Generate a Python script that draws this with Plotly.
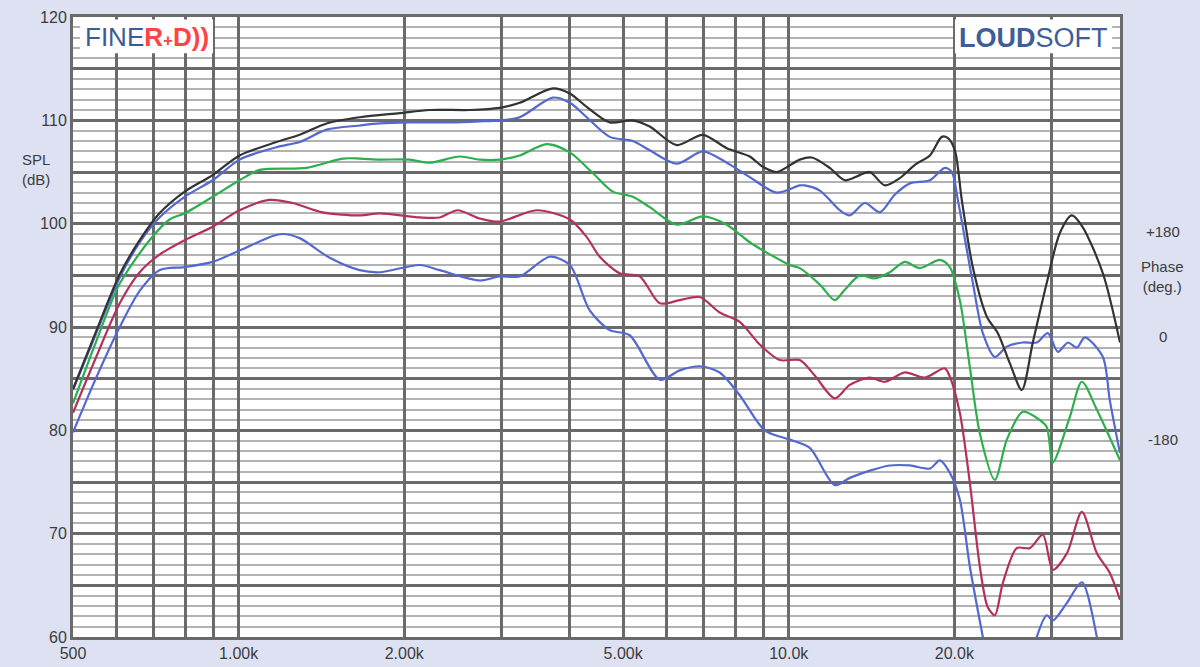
import plotly.graph_objects as go

# ---------------- data (frequency in Hz, SPL in dB) ----------------
black_f = [500, 550, 608, 661, 718, 798, 897, 1004, 1172, 1291, 1445, 1660, 1962, 2225, 2630, 2982,
           3243, 3724, 4000, 4293, 4727, 5204, 5588, 6257, 6977, 7715, 8493, 8970, 9511, 10470, 11010,
           11870, 12640, 13460, 14040, 14950, 15910, 16950, 18050, 18970, 19450, 20040, 20630, 21600,
           22910, 23990, 25220, 26520, 27770, 29450, 31100, 32700, 34190, 37230, 40000]
black_db = [84.0, 89.5, 95.1, 98.4, 101.0, 103.1, 104.7, 106.6, 107.9, 108.6, 109.7, 110.3, 110.7, 111.0,
            111.0, 111.2, 111.7, 113.1, 112.6, 111.3, 109.8, 110.0, 109.4, 107.6, 108.6, 107.3, 106.5,
            105.5, 105.0, 106.2, 106.4, 105.4, 104.2, 104.7, 105.0, 103.7, 104.4, 105.7, 106.6, 108.4,
            108.3, 107.1, 102.3, 95.8, 91.0, 89.4, 86.5, 83.9, 88.5, 94.3, 99.1, 100.8, 99.7, 95.2, 88.5]

blue1_f = [500, 550, 608, 661, 718, 798, 897, 1004, 1172, 1291, 1445, 1660, 1805, 2046, 2419, 2743,
           2982, 3243, 3724, 4000, 4293, 4727, 5204, 5588, 6257, 6977, 7715, 8493, 9511, 10470, 10690,
           11390, 12380, 12910, 13750, 14640, 15580, 16600, 18050, 19210, 19790, 20290, 21600, 22530,
           23690, 24910, 26630, 28240, 29570, 30840, 32160, 33390, 34530, 37230, 38330, 40000]
blue1_db = [83.9, 89.3, 94.8, 98.2, 100.6, 102.6, 104.2, 106.2, 107.4, 107.9, 109.1, 109.5, 109.7, 109.8,
            109.8, 109.9, 110.0, 110.3, 112.2, 111.7, 110.3, 108.4, 108.0, 107.1, 105.8, 107.0, 105.9,
            104.5, 103.0, 103.7, 103.7, 103.2, 101.3, 100.8, 102.0, 101.1, 102.8, 103.9, 104.2, 105.4,
            105.0, 102.3, 94.3, 89.4, 87.1, 88.1, 88.5, 88.5, 89.4, 87.6, 88.5, 88.0, 89.0, 87.1, 82.9,
            77.8]

green_f = [500, 550, 608, 689, 749, 798, 897, 1004, 1092, 1329, 1546, 1660, 1805, 2046, 2225, 2521,
           2743, 2982, 3243, 3631, 4000, 4402, 4786, 5204, 5588, 6257, 6977, 7715, 8493, 9120, 10040,
           10470, 11390, 12120, 12640, 13460, 14330, 15260, 16250, 17310, 18820, 19620, 20460, 21340,
           22250, 23690, 24910, 26630, 28600, 29450, 30200, 32430, 34100, 36310, 40000]
green_db = [82.6, 88.5, 94.2, 98.4, 100.4, 101.0, 102.6, 104.2, 105.2, 105.4, 106.3, 106.3, 106.2, 106.2,
            105.9, 106.5, 106.2, 106.2, 106.6, 107.7, 106.9, 104.9, 103.1, 102.6, 101.6, 99.9, 100.7,
            99.9, 98.2, 97.2, 96.0, 95.7, 94.1, 92.6, 93.6, 95.0, 94.7, 95.3, 96.3, 95.7, 96.5, 95.8,
            92.6, 86.1, 79.7, 75.2, 79.1, 81.8, 81.0, 80.3, 76.9, 81.3, 84.7, 82.0, 77.1]

red_f = [500, 550, 608, 661, 718, 798, 897, 1004, 1139, 1254, 1421, 1660, 1805, 2134, 2320, 2500, 2743,
         2982, 3482, 4000, 4293, 4533, 4929, 5358, 5828, 6336, 6890, 7490, 8144, 8858, 9630, 10470,
         11150, 12120, 12910, 14040, 14950, 16250, 17680, 19210, 19620, 20460, 21340, 22250, 22990,
         23690, 24490, 25970, 27430, 28960, 30200, 32030, 34100, 36310, 38330, 40000]
red_db = [81.7, 87.0, 92.3, 95.3, 97.0, 98.4, 99.7, 101.3, 102.3, 102.0, 101.1, 100.8, 101.0, 100.6,
          100.6, 101.3, 100.5, 100.2, 101.3, 100.4, 98.7, 96.8, 95.2, 94.9, 92.3, 92.6, 92.9, 91.4,
          90.5, 88.3, 86.8, 86.8, 85.3, 83.1, 84.4, 85.1, 84.7, 85.6, 85.1, 86.0, 85.2, 81.7, 74.9,
          66.8, 62.9, 62.1, 65.2, 68.6, 68.6, 69.9, 66.5, 68.1, 72.1, 68.1, 66.2, 63.6]

blue2_f = [500, 550, 608, 661, 718, 798, 897, 1004, 1153, 1202, 1291, 1464, 1660, 1805, 2134, 2320,
           2743, 2982, 3243, 3677, 4000, 4347, 4727, 5139, 5828, 6336, 6890, 7490, 8144, 9046, 10040,
           10920, 12120, 12910, 14040, 15260, 16600, 18050, 18820, 19620, 20460, 21340, 22530, 23500,
           27000, 28240, 29450, 30200, 32030, 34100, 36310, 37500]
blue2_db = [79.8, 85.0, 90.0, 93.5, 95.5, 95.8, 96.3, 97.4, 98.8, 99.0, 98.6, 96.7, 95.5, 95.3, 96.0,
            95.5, 94.5, 94.9, 94.9, 96.8, 96.0, 91.6, 89.7, 89.2, 84.9, 85.8, 86.2, 85.6, 83.4, 80.0,
            79.1, 78.3, 74.7, 75.4, 76.1, 76.6, 76.6, 76.3, 77.1, 75.9, 73.3, 66.8, 60.0, 55.0, 55.0,
            60.0, 62.1, 61.6, 63.3, 65.3, 60.0, 55.0]

x_tickvals = [500, 600, 700, 800, 900, 1000, 2000, 3000, 4000, 5000, 6000, 7000, 8000, 9000,
              10000, 20000, 30000]
x_ticktext = ['500', '', '', '', '', '1.00k', '2.00k', '', '', '5.00k', '', '', '', '',
              '10.0k', '20.0k', '']
y_tickvals = [60, 65, 70, 75, 80, 85, 90, 95, 100, 105, 110, 115, 120]
y_ticktext = ['60', '', '70', '', '80', '', '90', '', '100', '', '110', '', '120']

# ---------------- figure ----------------
BG = '#dde1f2'
GRID_MAJOR = '#6a6a6a'
GRID_MINOR = '#b2b2b2'
TXT = '#3c3c3c'
FONT = 'Arial, Liberation Sans, sans-serif'

fig = go.Figure()
series = [
    (blue2_f, blue2_db, '#5468d0'),
    (red_f, red_db, '#b3305f'),
    (green_f, green_db, '#2eaf4e'),
    (blue1_f, blue1_db, '#5468d0'),
    (black_f, black_db, '#333333'),
]
for f, d, c in series:
    fig.add_trace(go.Scatter(x=f, y=d, mode='lines',
                             line=dict(color=c, width=2.2, shape='spline', smoothing=0.8),
                             hoverinfo='skip', showlegend=False))

fig.update_layout(
    width=1200, height=667,
    paper_bgcolor=BG, plot_bgcolor='white',
    margin=dict(l=73, r=80, t=17, b=30, autoexpand=False),
    font=dict(family=FONT, size=16, color=TXT),
    showlegend=False,
)
fig.update_xaxes(
    type='log', range=[2.69897, 4.60206], automargin=False,
    tickmode='array', tickvals=x_tickvals, ticktext=x_ticktext,
    showgrid=True, gridcolor=GRID_MAJOR, gridwidth=2.5,
    showline=True, linecolor=GRID_MAJOR, linewidth=3, mirror=True,
    ticks='', tickfont=dict(size=16, color=TXT), zeroline=False,
)
fig.update_yaxes(
    range=[60, 120], automargin=False,
    tickmode='array', tickvals=y_tickvals, ticktext=y_ticktext,
    showgrid=True, gridcolor=GRID_MAJOR, gridwidth=2.5,
    minor=dict(tickmode='linear', tick0=60, dtick=1, showgrid=True,
               gridcolor=GRID_MINOR, gridwidth=1.6, ticks=''),
    showline=True, linecolor=GRID_MAJOR, linewidth=3, mirror=True,
    ticks='', ticklabelstandoff=0, tickfont=dict(size=16, color=TXT), zeroline=False,
)

# logo backgrounds
fig.add_shape(type='rect', xref='paper', yref='y', x0=0.0067, x1=0.1337, y0=116.5, y1=119.75,
              fillcolor='white', line=dict(width=0), layer='above')
fig.add_shape(type='rect', xref='paper', yref='y', x0=0.8424, x1=0.9925, y0=116.5, y1=119.75,
              fillcolor='white', line=dict(width=0), layer='above')

fig.add_annotation(xref='paper', yref='y', x=0.0707, y=118.1, showarrow=False,
                   xanchor='center', yanchor='middle',
                   text='FINE<b><span style="color:#ff4444">R<span style="font-size:17px">+</span>D))</span></b>',
                   font=dict(family=FONT, size=26, color='#3a5b98'))
fig.add_annotation(xref='paper', yref='y', x=0.917, y=117.95, showarrow=False,
                   xanchor='center', yanchor='middle',
                   text='<b>LOUD</b>SOFT',
                   font=dict(family=FONT, size=27, color='#3d5e99'))

# axis captions
cap = dict(size=15, color=TXT)
fig.add_annotation(xref='paper', yref='y', x=-0.0353, y=105.2, showarrow=False,
                   xanchor='center', text='SPL<br>(dB)', font=cap)
fig.add_annotation(xref='paper', yref='y', x=1.041, y=99.2, showarrow=False,
                   xanchor='center', text='+180', font=cap)
fig.add_annotation(xref='paper', yref='y', x=1.041, y=94.9, showarrow=False,
                   xanchor='center', text='Phase<br>(deg.)', font=cap)
fig.add_annotation(xref='paper', yref='y', x=1.041, y=89.1, showarrow=False,
                   xanchor='center', text='0', font=cap)
fig.add_annotation(xref='paper', yref='y', x=1.041, y=79.1, showarrow=False,
                   xanchor='center', text='-180', font=cap)

fig.write_html('out.html', config={'displayModeBar': False},
               post_script="document.body.style.margin='0';document.body.style.background='%s';" % BG)
